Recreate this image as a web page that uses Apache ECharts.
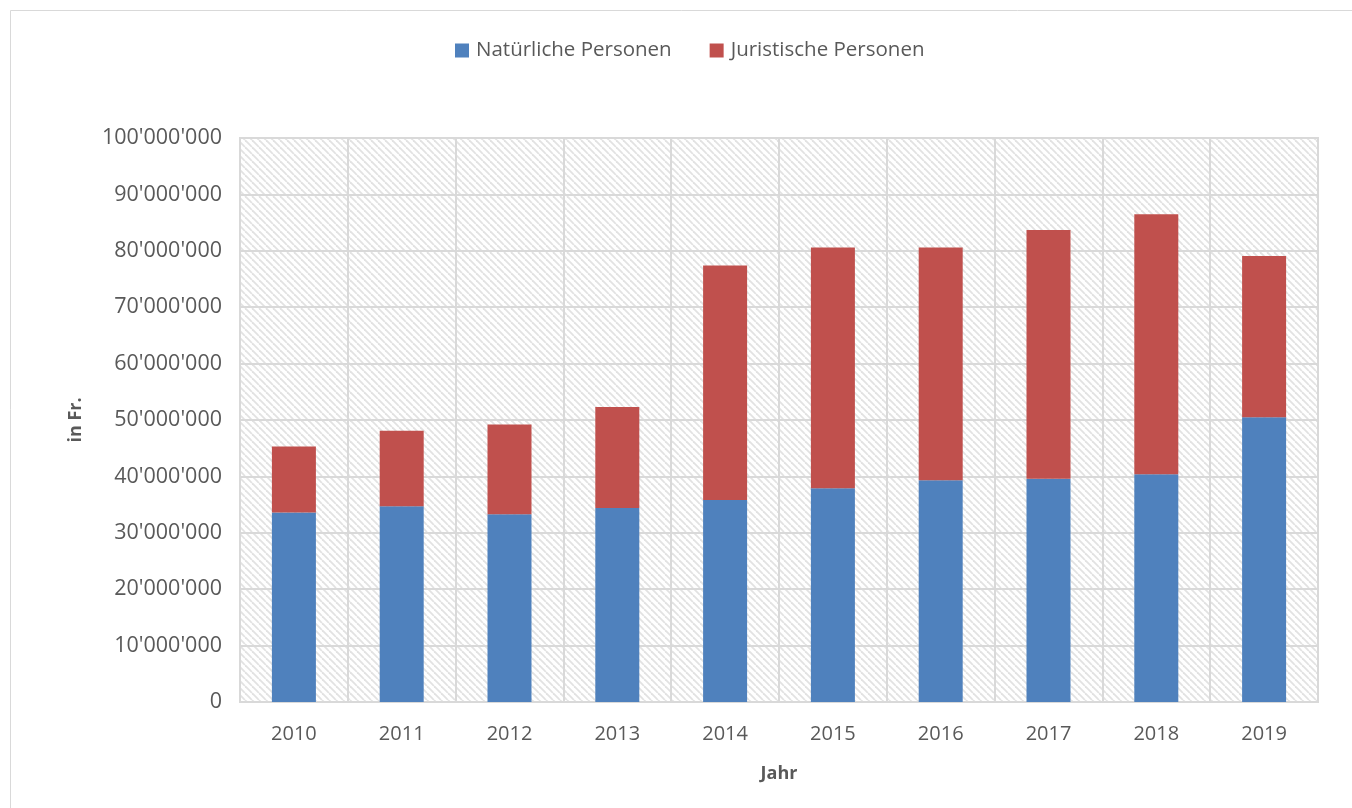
<!DOCTYPE html>
<html>
<head>
    <meta charset="utf-8">
    <title>Steuern</title>
    <script src="https://cdn.jsdelivr.net/npm/echarts@6/dist/echarts.min.js"></script>
</head>
<body style="margin:0">
    <div id="main" style="width:1352px;height:808px;"></div>
    <script type="text/javascript">
        var years = ['2010', '2011', '2012', '2013', '2014', '2015', '2016', '2017', '2018', '2019'];
        // Werte in Franken
        var natuerliche = [33600000, 34700000, 33300000, 34400000, 35800000, 37900000, 39300000, 39600000, 40400000, 50500000];
        var juristische = [11700000, 13400000, 15900000, 17900000, 41600000, 42700000, 41300000, 44100000, 46100000, 28600000];

        var fontName = 'Open Sans';
        var textColor = '#595959';

        // schraffierter Hintergrund der Zeichenfläche
        var tile = document.createElement('canvas');
        tile.width = 7;
        tile.height = 7;
        var ctx = tile.getContext('2d');
        ctx.fillStyle = '#ffffff';
        ctx.fillRect(0, 0, 7, 7);
        ctx.strokeStyle = '#e2e2e2';
        ctx.lineWidth = 1.8;
        [-7, 0, 7].forEach(function (o) {
            ctx.beginPath();
            ctx.moveTo(o, 0);
            ctx.lineTo(o + 7, 7);
            ctx.stroke();
        });

        function fmt(v) {
            return String(v).replace(/\B(?=(\d{3})+(?!\d))/g, "'");
        }

        var myChart = echarts.init(document.getElementById('main'));

        var option = {
            backgroundColor: '#ffffff',
            textStyle: { fontFamily: fontName },
            graphic: [{
                type: 'rect',
                shape: { x: 10.5, y: 10.5, width: 1360, height: 820 },
                style: { fill: 'none', stroke: '#d9d9d9', lineWidth: 1 },
                silent: true
            }],
            legend: {
                top: 35,
                left: 450,
                itemWidth: 14,
                itemHeight: 14,
                itemGap: 38,
                icon: 'rect',
                textStyle: { fontFamily: fontName, fontSize: 20.5, color: textColor, padding: [0, 0, 0, 2] },
                data: ['Natürliche Personen', 'Juristische Personen']
            },
            grid: {
                left: 240,
                right: 34,
                top: 138,
                bottom: 106,
                show: true,
                borderColor: '#d9d9d9',
                borderWidth: 2,
                backgroundColor: { image: tile, repeat: 'repeat' }
            },
            xAxis: {
                type: 'category',
                data: years,
                name: 'Jahr',
                nameLocation: 'middle',
                nameGap: 63,
                nameTextStyle: { fontFamily: fontName, fontSize: 18, fontWeight: 'bold', color: textColor },
                axisLine: { lineStyle: { color: '#d9d9d9', width: 2 } },
                axisTick: { show: false },
                axisLabel: { fontFamily: fontName, fontSize: 20, color: textColor, margin: 22 },
                splitLine: { show: true, lineStyle: { color: '#d9d9d9', width: 2 } }
            },
            yAxis: {
                type: 'value',
                min: 0,
                max: 100000000,
                interval: 10000000,
                name: 'in Fr.',
                nameLocation: 'middle',
                nameGap: 155,
                nameTextStyle: { fontFamily: fontName, fontSize: 18, fontWeight: 'bold', color: textColor },
                axisLine: { show: false },
                axisTick: { show: false },
                axisLabel: { fontFamily: fontName, fontSize: 21.5, color: textColor, margin: 18, formatter: fmt },
                splitLine: { lineStyle: { color: '#d9d9d9', width: 2 } }
            },
            series: [{
                name: 'Natürliche Personen',
                type: 'bar',
                stack: 'total',
                barWidth: 44,
                itemStyle: { color: '#4f81bd' },
                data: natuerliche
            }, {
                name: 'Juristische Personen',
                type: 'bar',
                stack: 'total',
                barWidth: 44,
                itemStyle: { color: '#c0504d' },
                data: juristische
            }]
        };

        myChart.setOption(option);
    </script>
</body>
</html>
